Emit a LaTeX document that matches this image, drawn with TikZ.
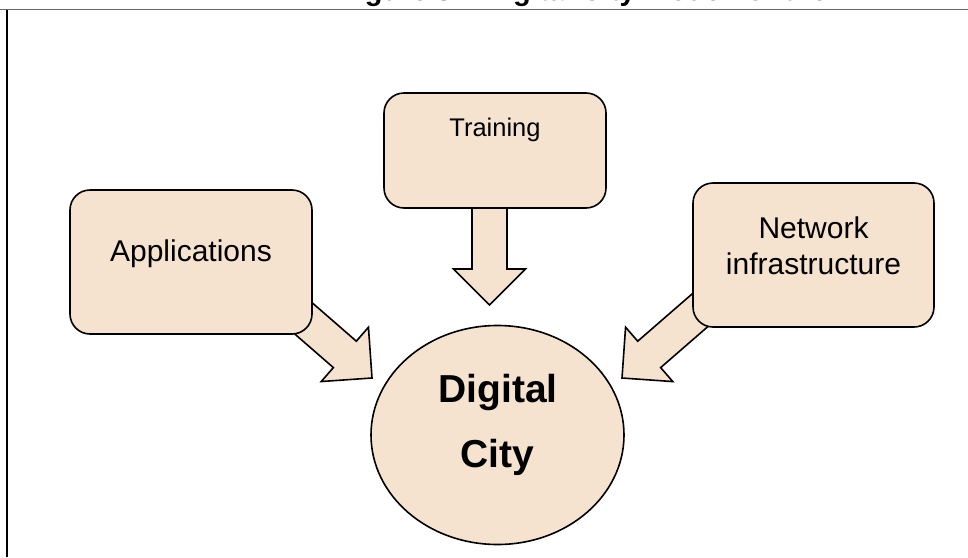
\documentclass[tikz,border=0pt]{standalone}
\usepackage{fontspec}
\setmainfont{Liberation Sans}
\usetikzlibrary{calc,shapes.geometric}
\pgfdeclarelayer{paper}
\pgfdeclarelayer{arrows}
\pgfsetlayers{paper,arrows,main}
\definecolor{sand}{HTML}{F5E3CF}
\tikzset{
  card/.style={draw=black, fill=sand, line width=1.6pt, rounded corners=20pt, inner sep=0pt},
  hub/.style={draw=black, fill=sand, line width=1.6pt, ellipse, inner sep=0pt},
  flow/.style={draw=black, fill=sand, line width=1.6pt, line join=miter},
  cardtext/.style={inner sep=0pt, font=\fontsize{30}{36}\selectfont, align=center},
}
% block arrow: shaft 35 wide, head 72 wide and 36 long
\newcommand\fatarrow[2]{%
  \coordinate (neck) at ($(#2)!36pt!(#1)$);
  \draw[flow] ($(#1)!17.5pt!90:(#2)$) -- ($(neck)!17.5pt!90:(#2)$)
    -- ($(neck)!36pt!90:(#2)$) -- (#2) -- ($(neck)!36pt!-90:(#2)$)
    -- ($(neck)!17.5pt!-90:(#2)$) -- ($(#1)!17.5pt!-90:(#2)$) -- cycle;}
\begin{document}
\begin{tikzpicture}[x=1pt, y=-1pt]
\useasboundingbox (0,0) rectangle (968,557);
\begin{pgfonlayer}{paper}
  \fill[white] (0,0) rectangle (968,557);
\end{pgfonlayer}

% caption, cut off by the top edge
\begin{scope}
  \clip (0,0) rectangle (968,9);
  \node[anchor=base west, inner sep=0pt, font=\fontsize{29}{35}\selectfont\bfseries]
    (caption) at (339,0.3) {Figure 3 – Digital City model for the};
\end{scope}

% frame
\draw[gray!80!black, line width=1.2pt] (0,9.5) -- (968,9.5);
\draw[black, line width=1.2pt] (7,9.5) -- (7,557);

% boxes and hub
\node[card, minimum width=242pt, minimum height=144pt] (app) at (191,262) {};
\node[card, minimum width=222pt, minimum height=115pt] (train) at (495,150.5) {};
\node[card, minimum width=241pt, minimum height=144pt] (net) at (813.5,255) {};
\node[hub, minimum width=253pt, minimum height=219pt] (city) at (497.5,435) {};

% labels
\node[cardtext, anchor=base] (applabel) at (191,261.7) {Applications};
\node[cardtext, anchor=base, font=\fontsize{25.5}{30}\selectfont] (trainlabel) at (495,136.7) {Training};
\node[cardtext, anchor=base] (netlabel1) at (813.5,238.3) {Network};
\node[cardtext, anchor=base] (netlabel2) at (813.5,274) {infrastructure};
\node[cardtext, anchor=base, font=\fontsize{39}{45}\bfseries] (citylabel1) at (498,402) {Digital};
\node[cardtext, anchor=base, font=\fontsize{39}{45}\bfseries] (citylabel2) at (497,467) {City};

% arrow ends
\coordinate (appout) at ([shift={(98,43.8)}]app.center);
\coordinate (trainout) at (489.5,195);
\coordinate (netout) at ([shift={(-100.9,44.3)}]net.center);
\coordinate (cityW) at (372,378);
\coordinate (cityN) at (489.5,305);
\coordinate (cityE) at (622,378);

\begin{pgfonlayer}{arrows}
  \fatarrow{appout}{cityW}
  \fatarrow{trainout}{cityN}
  \fatarrow{netout}{cityE}
\end{pgfonlayer}
\end{tikzpicture}
\end{document}
